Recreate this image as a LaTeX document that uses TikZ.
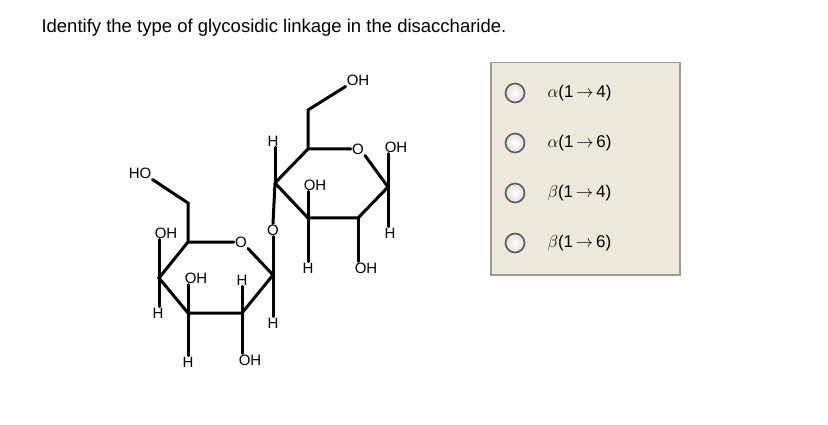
\documentclass[tikz,border=0pt]{standalone}
\usepackage{fontspec}
\setmainfont{Liberation Sans}
\begin{document}
\begin{tikzpicture}[x=1pt,y=-1pt,
  bond/.style={line width=3pt,line cap=round},
  lab/.style={font=\fontsize{15}{15}\selectfont,inner sep=1pt},
  opt/.style={font=\fontsize{17}{17}\selectfont,anchor=west},
  radio/.style={circle,minimum size=19pt,inner sep=0pt,draw=gray!70!black,line width=1.6pt,shade,inner color=white,outer color=gray!25}]
\useasboundingbox (0,0) rectangle (828,425);
\node[anchor=west,font=\fontsize{18.5}{18.5}\selectfont] (title) at (38,28) {Identify the type of glycosidic linkage in the disaccharide.};
% left ring
\coordinate (a5) at (188,242); \node[lab] (aO) at (241,242) {O};
\coordinate (a1) at (273,275); \coordinate (a2) at (242,313);
\coordinate (a3) at (188,313); \coordinate (a4) at (159,278);
\coordinate (a6) at (188,203);
\node[lab] (aHO) at (140,173) {HO};
\node[lab] (a4OH) at (166,233) {OH};
\node[lab] (a4H) at (158,313) {H};
\node[lab] (a3OH) at (196,278) {OH};
\node[lab] (a3H) at (188,362) {H};
\node[lab] (a2H) at (242,280) {H};
\node[lab] (a2OH) at (250,360) {OH};
\node[lab] (a1H) at (273,323) {H};
\node[lab] (link) at (273,230) {O};
% right ring
\coordinate (b4) at (275,183); \coordinate (b5) at (308,149);
\node[lab] (bO) at (358,149) {O};
\coordinate (b1) at (388,187); \coordinate (b2) at (358,218);
\coordinate (b3) at (308,218); \coordinate (b6) at (308,110);
\node[lab] (b6OH) at (358,80) {OH};
\node[lab] (b4H) at (273,141) {H};
\node[lab] (b3OH) at (315,185) {OH};
\node[lab] (b3H) at (308,268) {H};
\node[lab] (b1OH) at (396,147) {OH};
\node[lab] (b1H) at (390,233) {H};
\node[lab] (b2OH) at (366,268) {OH};
% bonds
\draw[bond] (a5) -- (aO.west) (aO.south east) -- (a1) -- (a2) -- (a3) -- (a4) -- (a5) -- (a6) -- (aHO.south east);
\draw[bond] (a4) -- (a4 |- a4OH.south) (a4) -- (a4 |- a4H.north);
\draw[bond] (a3) -- (a3 |- a3OH.south) (a3) -- (a3 |- a3H.north);
\draw[bond] (a2) -- (a2 |- a2H.south) (a2) -- (a2 |- a2OH.north);
\draw[bond] (a1) -- (a1 |- a1H.north) (a1) -- (link.south);
\draw[bond] (link.north) -- (b4);
\draw[bond] (b4) -- (b5) -- (bO.west) (bO.south east) -- (b1) -- (b2) -- (b3) -- (b4);
\draw[bond] (b5) -- (b6) -- (b6OH.south west);
\draw[bond] (b4) -- (b4 |- b4H.south);
\draw[bond] (b3) -- (b3 |- b3OH.south) (b3) -- (b3 |- b3H.north);
\draw[bond] (b1) -- (b1 |- b1OH.south) (b1) -- (b1 |- b1H.north);
\draw[bond] (b2) -- (b2 |- b2OH.north);
% answer box
\node[draw=gray!80,line width=1.5pt,fill={rgb,255:red,236;green,233;blue,218},minimum width=189pt,minimum height=212pt,anchor=north west] (box) at (490,62) {};
\foreach \i/\t in {0/{$\alpha$(1\,$\rightarrow$\,4)},1/{$\alpha$(1\,$\rightarrow$\,6)},2/{$\beta$(1\,$\rightarrow$\,4)},3/{$\beta$(1\,$\rightarrow$\,6)}}{
  \node[radio] (r\i) at (515,93+50*\i) {};
  \node[opt] (t\i) at (544,93+50*\i) {\t};
}
\end{tikzpicture}
\end{document}
